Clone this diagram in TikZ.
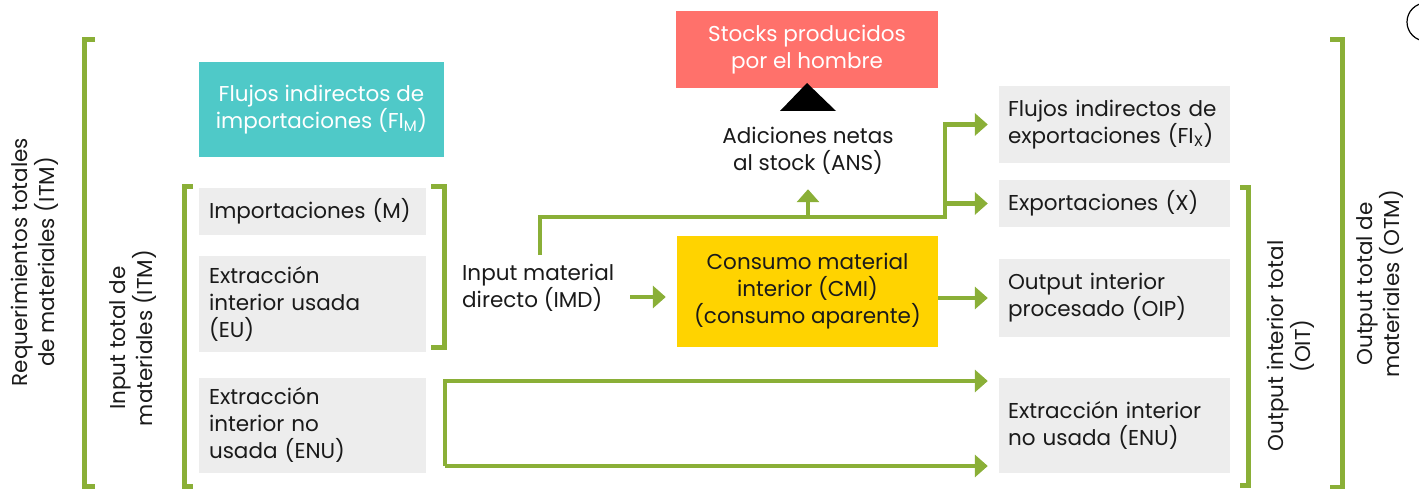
\documentclass[tikz,border=0pt]{standalone}
\usepackage{fontspec}
\setmainfont{Poppins}
\usetikzlibrary{arrows.meta}

\definecolor{flowgreen}{HTML}{8AAF37}
\definecolor{boxgray}{HTML}{EDEDED}
\definecolor{fimteal}{HTML}{4FC9C8}
\definecolor{stocksred}{HTML}{FF716B}
\definecolor{cmiyellow}{HTML}{FFD300}
\definecolor{inktext}{HTML}{1A1A1A}

\tikzset{
  graybox/.style 2 args={fill=boxgray, text width=#1, minimum height=#2,
    inner xsep=10pt, inner ysep=0pt, align=left},
  flowbox/.style 2 args={minimum width=#1, minimum height=#2,
    inner sep=0pt, align=center},
  flow/.style={draw=flowgreen, line width=4.5pt,
    -{Triangle[length=13pt,width=22pt]}, shorten >=11pt},
  bracket/.style={draw=flowgreen, line width=5pt},
}

\begin{document}
\begin{tikzpicture}[x=1pt,y=-1pt,font=\fontsize{21.5}{27}\selectfont,text=inktext]
  \useasboundingbox (0,0) rectangle (1419,489);

  % Outer labels and brackets on the left
  \node[rotate=90, align=center] (req) at (35,262) {Requerimientos totales\\de materiales (ITM)};
  \draw[bracket] (95,40) -| (84,486) -- (95,486);
  \node[rotate=90, align=center] (inp) at (133,338) {Input total de\\materiales (ITM)};
  \draw[bracket] (193,187) -| (184,486) -- (193,486);

  % Input side
  \node[flowbox={245pt}{95pt}, fill=fimteal, text=white] (fim) at (321.5,109.5)
    {Flujos indirectos de\\importaciones (FI\textsubscript{M})};
  \node[graybox={207pt}{47pt}] (imp) at (312.5,211.5) {Importaciones (M)};
  \node[graybox={207pt}{96pt}] (eu) at (312.5,304) {Extracción\\interior usada\\(EU)};
  \node[graybox={207pt}{95pt}] (enul) at (312.5,425.5) {Extracción\\interior no\\usada (ENU)};
  \draw[bracket] (431,187) -| (444,347) -- (431,347);

  % Middle: IMD, CMI and stocks
  \node[align=left, anchor=west, inner sep=0pt] (imd) at (462,288) {Input material\\directo (IMD)};
  \node[flowbox={261pt}{111pt}, fill=cmiyellow] (cmi) at (807.5,291.5)
    {Consumo material\\interior (CMI)\\(consumo aparente)};
  \node[flowbox={262pt}{77pt}, fill=stocksred, text=white] (stocks) at (807,49.5)
    {Stocks producidos\\por el hombre};
  \fill (780,111) -- (807,83) -- (836,111) -- cycle;
  \node[align=center] (ans) at (808,151) {Adiciones netas\\al stock (ANS)};

  % Output side
  \node[graybox={213pt}{77pt}, inner xsep=9pt] (fix) at (1114.5,124.5)
    {Flujos indirectos de\\exportaciones (FI\textsubscript{X})};
  \node[graybox={213pt}{47pt}, inner xsep=9pt] (exp) at (1114.5,203.5) {Exportaciones (X)};
  \node[graybox={213pt}{78pt}, inner xsep=9pt] (oip) at (1114.5,298) {Output interior\\procesado (OIP)};
  \node[graybox={213pt}{95pt}, inner xsep=9pt] (enur) at (1114.5,425.5) {Extracción interior\\no usada (ENU)};

  % Outer labels and brackets on the right
  \draw[bracket] (1240,188) -| (1248,485) -- (1240,485);
  \node[rotate=90, align=center] (oit) at (1291,346) {Output interior total\\(OIT)};
  \draw[bracket] (1330,40) -| (1342,487) -- (1330,487);
  \node[rotate=90, align=center] (otm) at (1380,284) {Output total de\\materiales (OTM)};

  % Flows
  \coordinate (imdout) at (630,297);
  \coordinate (imdup) at (540,255);
  \coordinate (split) at (945,217);
  \draw[flow] (imdout) -- (imdout -| cmi.west);
  \draw[flow] (cmi.east |- oip.west) -- (oip.west);
  \draw[flow] (imdup) |- (split) |- (fix.west);
  \draw[flow] (split) |- (exp.west);
  \draw[flow] (ans.south |- split) -- (ans.south);

  \coordinate (enutop) at (445,381);
  \coordinate (enubot) at (445,466);
  \draw[flow] (enubot) |- (enutop -| enur.west);
  \draw[flow] (enubot) -- (enubot -| enur.west);

  % corner mark
  \draw[line width=1.2pt] (1426,22) circle (19pt);
\end{tikzpicture}
\end{document}
